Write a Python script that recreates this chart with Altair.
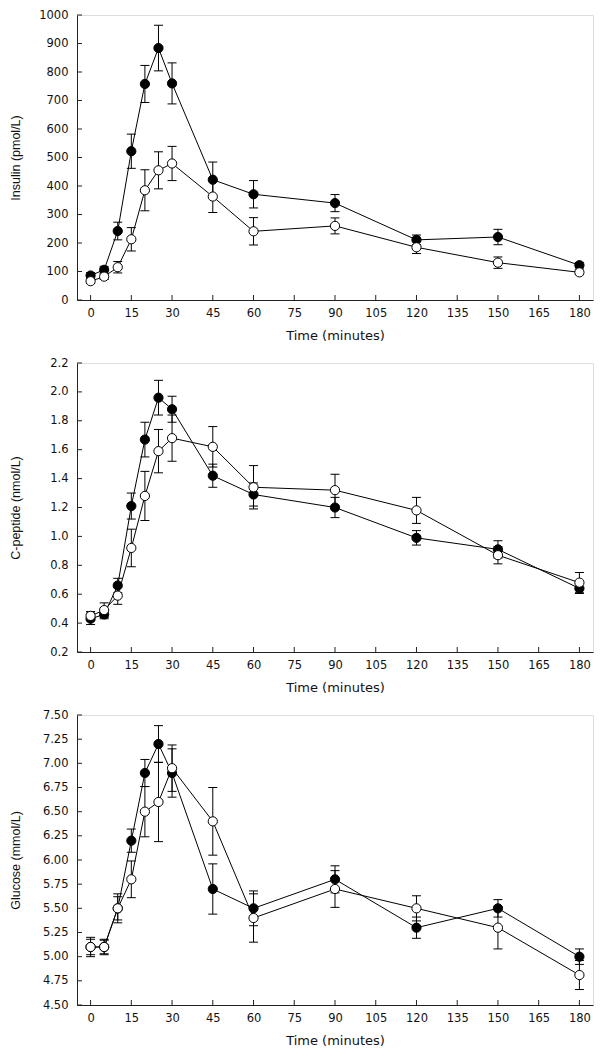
import altair as alt
import pandas as pd

# ---------------- data ----------------
times = [0, 5, 10, 15, 20, 25, 30, 45, 60, 90, 120, 150, 180]
x_ticks = [0, 15, 30, 45, 60, 75, 90, 105, 120, 135, 150, 165, 180]

ins_black = [86, 106, 242, 522, 758, 884, 760, 422, 371, 340, 211, 221, 122]
ins_black_se = [10, 12, 31, 60, 65, 80, 72, 62, 48, 30, 17, 27, 10]
ins_white = [66, 82, 115, 213, 385, 455, 479, 363, 241, 260, 185, 131, 97]
ins_white_se = [8, 10, 20, 41, 72, 65, 60, 56, 48, 28, 22, 20, 8]
ins_ticks = [0, 100, 200, 300, 400, 500, 600, 700, 800, 900, 1000]

cp_black = [0.43, 0.46, 0.66, 1.21, 1.67, 1.96, 1.88, 1.42, 1.29, 1.20, 0.99, 0.91, 0.64]
cp_black_se = [0.04, 0.03, 0.05, 0.09, 0.12, 0.12, 0.09, 0.08, 0.08, 0.07, 0.05, 0.06, 0.035]
cp_white = [0.45, 0.49, 0.59, 0.92, 1.28, 1.59, 1.68, 1.62, 1.34, 1.32, 1.18, 0.87, 0.68]
cp_white_se = [0.03, 0.05, 0.06, 0.13, 0.17, 0.15, 0.16, 0.14, 0.15, 0.11, 0.09, 0.06, 0.07]
cp_ticks = [0.2, 0.4, 0.6, 0.8, 1.0, 1.2, 1.4, 1.6, 1.8, 2.0, 2.2]

glu_black = [5.10, 5.10, 5.50, 6.20, 6.90, 7.20, 6.90, 5.70, 5.50, 5.80, 5.30, 5.50, 5.00]
glu_black_se = [0.08, 0.07, 0.12, 0.12, 0.14, 0.19, 0.25, 0.26, 0.18, 0.14, 0.11, 0.09, 0.08]
glu_white = [5.10, 5.10, 5.50, 5.80, 6.50, 6.60, 6.95, 6.40, 5.40, 5.70, 5.50, 5.30, 4.81]
glu_white_se = [0.10, 0.08, 0.15, 0.19, 0.26, 0.41, 0.24, 0.35, 0.25, 0.19, 0.13, 0.22, 0.15]
glu_ticks = [4.50, 4.75, 5.00, 5.25, 5.50, 5.75, 6.00, 6.25, 6.50, 6.75, 7.00, 7.25, 7.50]

W = 516
AX = "#222222"


def panel(mb, sb, mw, sw, ydom, yticks, yfmt, ytitle, h):
    rows = []
    for g, m, s in [("black", mb, sb), ("white", mw, sw)]:
        for t, v, e in zip(times, m, s):
            rows.append({"t": t, "v": v, "lo": v - e, "hi": v + e, "g": g})
    df = pd.DataFrame(rows)

    xaxis = alt.Axis(values=x_ticks, title="Time (minutes)", ticks=False, tickSize=0,
                     grid=False, labelPadding=7, titlePadding=11, domainColor=AX,
                     labelFont="DejaVu Sans", labelFontSize=11.5, titleFont="DejaVu Sans",
                     titleFontSize=13, titleFontWeight="normal", labelColor="#111",
                     titleColor="#111")
    yaxis = alt.Axis(values=yticks, format=yfmt, title=ytitle, ticks=False, tickSize=0,
                     grid=False, labelPadding=9, domainColor=AX,
                     labelFont="DejaVu Sans", labelFontSize=11.5, titleFont="Liberation Sans",
                     titleFontSize=12.5, titleFontWeight="normal", titleX=-62, titleY=h / 2,
                     titleBaseline="middle", titleAlign="center", labelColor="#111",
                     titleColor="#111")
    xsc = alt.Scale(domain=[-5, 185], nice=False, zero=False)
    ysc = alt.Scale(domain=ydom, nice=False, zero=False)

    def X(f):
        return alt.X(f, type="quantitative", scale=xsc, axis=xaxis, title="Time (minutes)")

    def Y(f):
        return alt.Y(f, type="quantitative", scale=ysc, axis=yaxis, title=ytitle)

    base = alt.Chart(df)
    lines = base.mark_line(color="black", strokeWidth=1).encode(
        x=X("t"), y=Y("v"), detail="g:N")
    bars = base.mark_rule(color="black", strokeWidth=1).encode(
        x=X("t"), y=Y("lo"), y2="hi")
    cap_hi = base.mark_rule(color="black", strokeWidth=1, xOffset=-4.5, x2Offset=4.5).encode(
        x=X("t"), x2="t", y=Y("hi"))
    cap_lo = base.mark_rule(color="black", strokeWidth=1, xOffset=-4.5, x2Offset=4.5).encode(
        x=X("t"), x2="t", y=Y("lo"))
    pts = base.mark_circle(size=85, stroke="black", strokeWidth=1, opacity=1).encode(
        x=X("t"), y=Y("v"),
        fill=alt.Fill("g:N", scale=alt.Scale(domain=["black", "white"],
                                             range=["black", "white"]), legend=None))
    xt = alt.Chart(pd.DataFrame({"t": x_ticks})).mark_rule(color=AX, strokeWidth=1).encode(
        x=X("t"), y=alt.value(h), y2=alt.value(h - 5))
    yt = alt.Chart(pd.DataFrame({"v": yticks})).mark_rule(color=AX, strokeWidth=1).encode(
        y=Y("v"), x=alt.value(0), x2=alt.value(5))

    return alt.layer(lines, bars, cap_hi, cap_lo, xt, yt, pts).properties(width=W, height=h)


p1 = panel(ins_black, ins_black_se, ins_white, ins_white_se, [0, 1000], ins_ticks, "d",
           "Insulin (pmol/L)", 285)
p2 = panel(cp_black, cp_black_se, cp_white, cp_white_se, [0.2, 2.2], cp_ticks, ".1f",
           "C-peptide (nmol/L)", 289)
p3 = panel(glu_black, glu_black_se, glu_white, glu_white_se, [4.5, 7.5], glu_ticks, ".2f",
           "Glucose (mmol/L)", 290)

chart = alt.vconcat(p1, p2, p3, spacing=63, bounds="flush").properties(
    padding={"left": 0, "top": 0, "right": 0, "bottom": 0}
).configure_view(stroke="#666666", strokeWidth=1).configure(background="white")

chart.save("out.html", embed_options={"renderer": "svg", "actions": False})
